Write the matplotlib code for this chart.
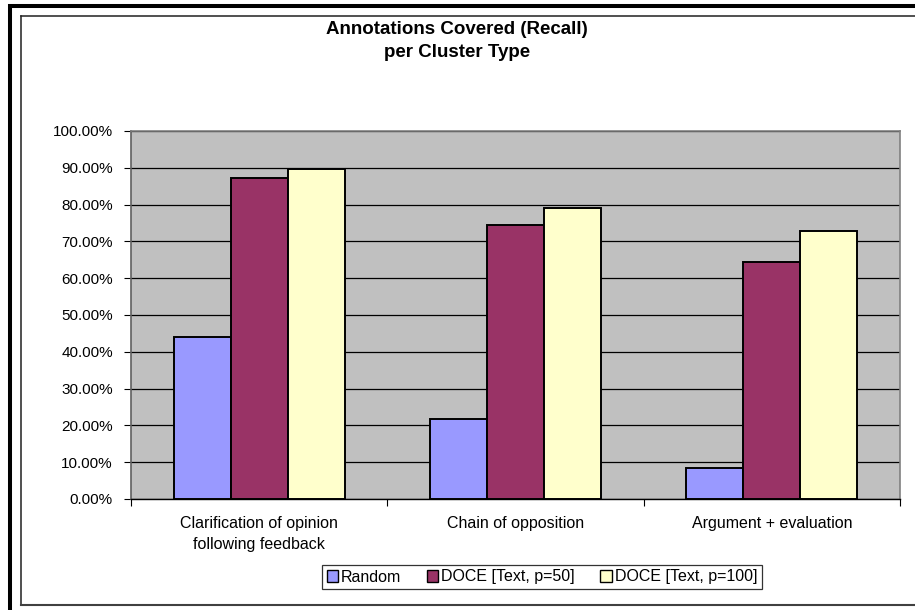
import matplotlib
matplotlib.use("Agg")
import matplotlib.pyplot as plt
import numpy as np
from matplotlib.lines import Line2D
from matplotlib.patches import Patch
from matplotlib.ticker import FuncFormatter, FixedLocator

plt.rcParams['font.family'] = ['Liberation Sans', 'DejaVu Sans']

categories = ["Clarification of opinion\nfollowing feedback",
              "Chain of opposition",
              "Argument + evaluation"]
series_names = ["Random", "DOCE [Text, p=50]", "DOCE [Text, p=100]"]
random_vals = [0.440, 0.217, 0.084]
doce50_vals = [0.873, 0.745, 0.643]
doce100_vals = [0.896, 0.790, 0.727]
y_ticks = [0.0, 0.1, 0.2, 0.3, 0.4, 0.5, 0.6, 0.7, 0.8, 0.9, 1.0]

colors = ["#9999FF", "#993366", "#FFFFCC"]

W, H = 915, 610
fig = plt.figure(figsize=(W / 100, H / 100), dpi=100)
fig.patch.set_facecolor("white")

def fx(px):
    return px / W

def fy(py):
    return 1 - py / H

ax = fig.add_axes([fx(131), fy(499), fx(900) - fx(131), fy(131) - fy(499)])
ax.set_facecolor("#C0C0C0")

x = np.arange(len(categories))
bw = 1 / 4.5
for i, (vals, col, name) in enumerate(zip([random_vals, doce50_vals, doce100_vals], colors, series_names)):
    ax.bar(x + (i - 1) * bw, vals, width=bw, color=col, edgecolor="black",
           linewidth=1.4, label=name, zorder=3)

ax.set_xlim(-0.5, len(categories) - 0.5)
ax.set_ylim(0, 1)
ax.yaxis.set_major_locator(FixedLocator(y_ticks))
ax.yaxis.set_major_formatter(FuncFormatter(lambda v, p: f"{v * 100:.2f}%"))
ax.yaxis.grid(True, color="black", linewidth=0.9, zorder=1)
ax.set_axisbelow(True)

ax.set_xticks(x)
ax.set_xticklabels(categories, fontsize=11.5, linespacing=1.55)
ax.set_xticks(np.arange(len(categories) + 1) - 0.5, minor=True)
ax.tick_params(axis="x", which="major", length=0, pad=12)
ax.tick_params(axis="x", which="minor", length=5, width=0.8, color="black", direction="out")
ax.tick_params(axis="y", length=5, width=0.8, color="black", direction="out", pad=8,
               labelsize=11)

for s in ["top", "right"]:
    ax.spines[s].set_color("#808080")
    ax.spines[s].set_linewidth(1.2)
ax.spines["left"].set_color("#606060")
ax.spines["left"].set_linewidth(1.2)
ax.spines["bottom"].set_color("black")
ax.spines["bottom"].set_linewidth(1.0)

fig.text(fx(457), fy(41), "Annotations Covered (Recall)\nper Cluster Type",
         ha="center", va="center", fontsize=13.5, fontweight="bold", linespacing=1.5)

handles = [Patch(facecolor=c, edgecolor="black", linewidth=1.0) for c in colors]
leg = fig.legend(handles, series_names, loc="center", bbox_to_anchor=(fx(542), fy(577)),
                 ncol=3, fontsize=11.5, frameon=True, fancybox=False,
                 handlelength=0.7, handleheight=0.7, handletextpad=0.2,
                 columnspacing=1.6, borderpad=0.3, borderaxespad=0)
leg.get_frame().set_edgecolor("black")
leg.get_frame().set_linewidth(0.9)

# outer frame: thick black edge along top and left
fig.add_artist(Line2D([fx(8), 1.0], [fy(6), fy(6)], color="black", linewidth=2.9,
                      transform=fig.transFigure, solid_capstyle="butt"))
fig.add_artist(Line2D([fx(10), fx(10)], [fy(4), 0.0], color="black", linewidth=2.9,
                      transform=fig.transFigure, solid_capstyle="butt"))
# inner thin frame
fig.add_artist(Line2D([fx(20.5), 1.0], [fy(15.5), fy(15.5)], color="#202020", linewidth=1.1,
                      transform=fig.transFigure))
fig.add_artist(Line2D([fx(20.5), fx(20.5)], [fy(15.5), fy(605)], color="#202020", linewidth=1.1,
                      transform=fig.transFigure))
fig.add_artist(Line2D([fx(20.5), 1.0], [fy(605), fy(605)], color="#404040", linewidth=1.5,
                      transform=fig.transFigure))

fig.savefig("out.png", dpi=100)
